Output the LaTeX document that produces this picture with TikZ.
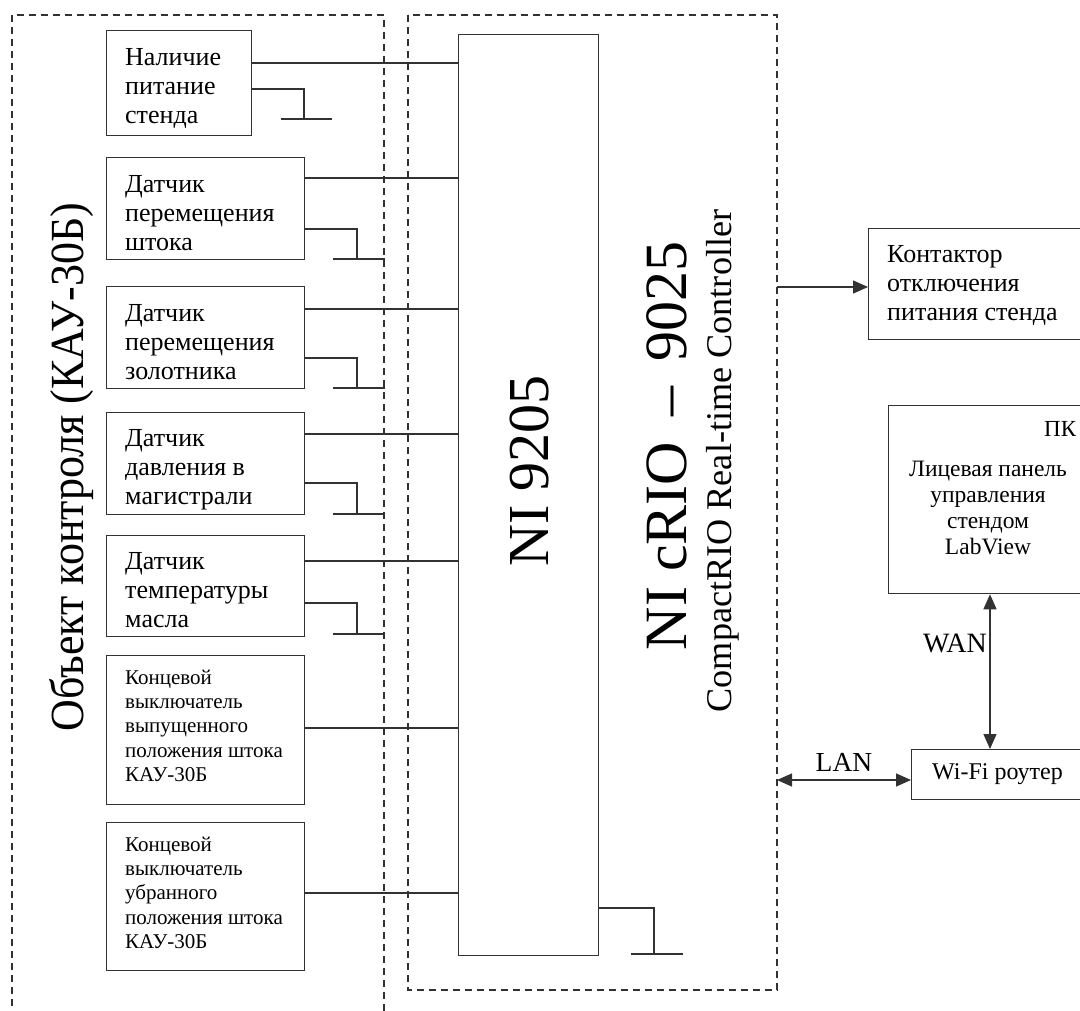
\documentclass[tikz,border=0pt]{standalone}
\usepackage{fontspec}
\setmainfont{Liberation Serif}
\usetikzlibrary{arrows.meta}
\definecolor{lc}{RGB}{50,50,50}
\newcommand{\fsA}{\fontsize{26pt}{29pt}\selectfont}
\newcommand{\fsB}{\fontsize{21pt}{24.2pt}\selectfont}
\newcommand{\fsC}{\fontsize{23.5pt}{25.7pt}\selectfont}
\begin{document}
\begin{tikzpicture}[x=1pt,y=-1pt,
  box/.style={draw=lc, line width=1.3pt, inner sep=0pt, anchor=north west},
  txt/.style={inner sep=0pt, anchor=north west, align=left, font=\fsA},
  wire/.style={draw=lc, line width=1.2pt},
  grp/.style={draw=lc, line width=1.6pt, dash pattern=on 7pt off 5pt},
  arr/.style={wire, -{Triangle[length=15pt,width=13pt]}},
  darr/.style={wire, {Triangle[length=15pt,width=13pt]}-{Triangle[length=15pt,width=13pt]}},
  lbl/.style={inner sep=0pt}
]
\useasboundingbox[fill=white] (0,0) rectangle (1080,1011);

% dashed groups
\draw[grp] (12,1030) -- (12,15) -- (384,15) -- (384,1030);
\draw[grp] (408,15) rectangle (777,990);

% left boxes
\node[box, minimum width=145pt, minimum height=105pt] (b1) at (106,30) {};
\node[box, minimum width=198pt, minimum height=102pt] (b2) at (106,157) {};
\node[box, minimum width=198pt, minimum height=102pt] (b3) at (106,286) {};
\node[box, minimum width=198pt, minimum height=102pt] (b4) at (106,412) {};
\node[box, minimum width=198pt, minimum height=101pt] (b5) at (106,535) {};
\node[box, minimum width=198pt, minimum height=149pt] (b6) at (106,655) {};
\node[box, minimum width=198pt, minimum height=148pt] (b7) at (106,822) {};

\node[txt] (t1) at (125,48) {Наличие\\питание\\стенда};
\node[txt] (t2) at (125,175) {Датчик\\перемещения\\штока};
\node[txt] (t3) at (125,304) {Датчик\\перемещения\\золотника};
\node[txt] (t4) at (125,429) {Датчик\\давления в\\магистрали};
\node[txt] (t5) at (125,552) {Датчик\\температуры\\масла};
\node[txt, font=\fsB] (t6) at (125,670) {Концевой\\выключатель\\выпущенного\\положения штока\\КАУ-30Б};
\node[txt, font=\fsB] (t7) at (125,837) {Концевой\\выключатель\\убранного\\положения штока\\КАУ-30Б};

% NI 9205 module
\node[box, minimum width=140pt, minimum height=921pt] (nb) at (458,34) {};

% signal wires
\draw[wire] (b1.east |- 0,63) -- (nb.west |- 0,63);
\draw[wire] (b2.east |- 0,178) -- (nb.west |- 0,178);
\draw[wire] (b3.east |- 0,309) -- (nb.west |- 0,309);
\draw[wire] (b4.east |- 0,434) -- (nb.west |- 0,434);
\draw[wire] (b5.east |- 0,561) -- (nb.west |- 0,561);
\draw[wire] (b6.east |- 0,728) -- (nb.west |- 0,728);
\draw[wire] (b7.east |- 0,893) -- (nb.west |- 0,893);

% grounds
\draw[wire] (b1.east |- 0,89) -- (304,89) -- (304,119);
\draw[wire] (281,119) -- (332,119);
\draw[wire] (b2.east |- 0,229) -- (357,229) -- (357,259);
\draw[wire] (333,259) -- (385,259);
\draw[wire] (b3.east |- 0,358) -- (357,358) -- (357,388);
\draw[wire] (333,388) -- (385,388);
\draw[wire] (b4.east |- 0,483) -- (357,483) -- (357,514);
\draw[wire] (333,514) -- (385,514);
\draw[wire] (b5.east |- 0,603) -- (357,603) -- (357,634);
\draw[wire] (333,634) -- (385,634);
\draw[wire] (nb.east |- 0,908) -- (654,908) -- (654,954);
\draw[wire] (631,954) -- (683,954);

% rotated labels
\node[lbl, rotate=90, anchor=base, font=\fontsize{44pt}{48pt}\selectfont] (tobj) at (83,467) {\scalebox{1}[1.08]{Объект контроля (КАУ-30Б)}};
\node[lbl, rotate=90, anchor=base, font=\fontsize{58pt}{60pt}\selectfont] (t9205) at (548,471) {NI 9205};
\node[lbl, rotate=90, anchor=base, font=\fontsize{60pt}{62pt}\selectfont] (tcrio) at (686,446) {NI cRIO \,–\, 9025};
\node[lbl, rotate=90, anchor=base, font=\fontsize{36.2pt}{38pt}\selectfont] (tcomp) at (731,461) {CompactRIO Real-time Controller};

% right side
\node[box, minimum width=260pt, minimum height=111pt] (kont) at (868,228) {};
\node[txt] (tkont) at (887,245) {Контактор\\отключения\\питания стенда};
\draw[arr] (777,287) -- (kont.west |- 0,287);

\node[box, minimum width=260pt, minimum height=188pt] (pk) at (888,405) {};
\node[lbl, anchor=west, font=\fontsize{23pt}{26pt}\selectfont] (tpk) at (1044,429) {ПК};
\node[lbl, align=center, font=\fsC] (tpanel) at (988,508) {Лицевая панель\\управления\\стендом\\LabView};

\node[box, minimum width=260pt, minimum height=50pt] (wifi) at (911,749) {};
\node[lbl, anchor=west, font=\fontsize{24pt}{26pt}\selectfont] (twifi) at (932,774) {Wi-Fi роутер};

\draw[darr] (990,0 |- pk.south) -- (990,0 |- wifi.north);
\node[lbl, font=\fontsize{28pt}{30pt}\selectfont] (twan) at (955,643) {WAN};
\draw[darr] (777,780) -- (wifi.west |- 0,780);
\node[lbl, font=\fontsize{27.5pt}{30pt}\selectfont] (tlan) at (844,762) {LAN};
\end{tikzpicture}
\end{document}
